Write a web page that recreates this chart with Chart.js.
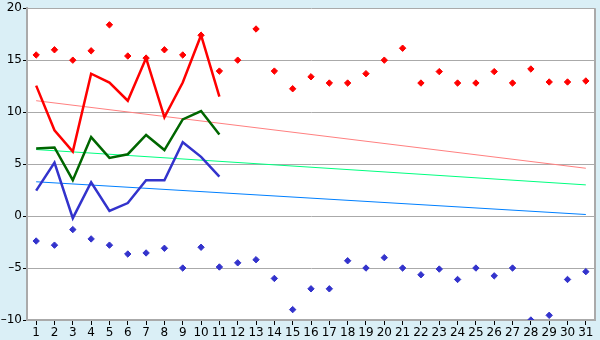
<!DOCTYPE html>
<html lang="en">
<head>
    <meta charset="UTF-8">
    <title>Chart</title>
    <script src="https://cdn.jsdelivr.net/npm/chart.js"></script>
    <style>
        html, body { margin: 0; padding: 0; background: #daeff6; }
        #wrap { width: 600px; height: 340px; }
    </style>
</head>
<body>
    <div id="wrap"><canvas id="grafico"></canvas></div>
    <script>
        // categorias (dias)
        var dias = [];
        for (var d = 1; d <= 31; d++) dias.push(String(d));

        // pontos vermelhos
        var pontosVermelhos = [15.5, 16, 15, 15.9, 18.4, 15.4, 15.2, 16, 15.5, 17.4,
            13.95, 15, 18, 13.95, 12.25, 13.4, 12.8, 12.8, 13.7, 15,
            16.15, 12.8, 13.9, 12.8, 12.8, 13.9, 12.8, 14.15, 12.9, 12.9, 13];
        // pontos azuis
        var pontosAzuis = [-2.4, -2.8, -1.3, -2.2, -2.8, -3.65, -3.55, -3.1, -5, -3,
            -4.9, -4.5, -4.2, -6, -9, -7, -7, -4.3, -5, -4,
            -5, -5.65, -5.1, -6.1, -5, -5.75, -5, -10, -9.55, -6.1, -5.35];

        // linhas grossas (dias 1-11)
        var linhaVermelha = [12.55, 8.25, 6.2, 13.7, 12.85, 11.1, 15.2, 9.5, 12.85, 17.4, 11.5];
        var linhaVerde = [6.5, 6.6, 3.45, 7.6, 5.6, 5.95, 7.8, 6.35, 9.3, 10.1, 7.85];
        var linhaAzul = [2.45, 5.15, -0.2, 3.25, 0.5, 1.25, 3.45, 3.45, 7.1, 5.7, 3.8];

        // tendencias: valor no dia 1 e no dia 31
        var tendVermelha = [11.1, 4.6];
        var tendVerde = [6.4, 3.0];
        var tendAzul = [3.3, 0.15];

        var yTicks = [-10, -5, 0, 5, 10, 15, 20];

        function tendencia(v) {
            return [{ x: dias[0], y: v[0] }, { x: dias[dias.length - 1], y: v[1] }];
        }

        var fundoArea = {
            id: 'fundoArea',
            beforeDraw: function (chart) {
                var c = chart.ctx, a = chart.chartArea;
                c.save();
                c.fillStyle = '#ffffff';
                c.fillRect(a.left, a.top, a.right - a.left, a.bottom - a.top);
                c.restore();
            },
            afterDatasetsDraw: function (chart) {
                var c = chart.ctx, a = chart.chartArea;
                c.save();
                c.strokeStyle = '#aaaaaa';
                c.lineWidth = 2;
                c.beginPath();
                c.moveTo(a.right, a.top);
                c.lineTo(a.right, a.bottom);
                c.stroke();
                c.restore();
            }
        };

        Chart.defaults.font.family = 'DejaVu Sans';
        Chart.defaults.font.size = 12;
        Chart.defaults.color = '#000';

        var ctx = document.getElementById('grafico').getContext('2d');
        var grafico = new Chart(ctx, {
            type: 'line',
            data: {
                labels: dias,
                datasets: [
                    { data: tendencia(tendVermelha), borderColor: '#ff8080', borderWidth: 1, pointRadius: 0, order: 5 },
                    { data: tendencia(tendVerde), borderColor: '#00ff80', borderWidth: 1, pointRadius: 0, order: 5 },
                    { data: tendencia(tendAzul), borderColor: '#0080ff', borderWidth: 1, pointRadius: 0, order: 5 },
                    { data: linhaVermelha, borderColor: '#ff0000', borderWidth: 2.5, pointRadius: 0, order: 2 },
                    { data: linhaVerde, borderColor: '#006600', borderWidth: 2.5, pointRadius: 0, order: 2 },
                    { data: linhaAzul, borderColor: '#3333cc', borderWidth: 2.5, pointRadius: 0, order: 2 },
                    { data: pontosVermelhos, showLine: false, pointStyle: 'rectRot', pointRadius: 3.2,
                      backgroundColor: '#ff0000', borderColor: '#ff0000', borderWidth: 1, order: 1 },
                    { data: pontosAzuis, showLine: false, pointStyle: 'rectRot', pointRadius: 3.2,
                      backgroundColor: '#3333cc', borderColor: '#3333cc', borderWidth: 1, order: 1 }
                ]
            },
            options: {
                responsive: true,
                maintainAspectRatio: false,
                animation: false,
                layout: { padding: { top: 5, right: 4, left: 0, bottom: 0 } },
                plugins: { legend: { display: false }, tooltip: { enabled: false } },
                elements: { line: { tension: 0 } },
                scales: {
                    x: {
                        type: 'category',
                        offset: true,
                        grid: { drawOnChartArea: false, offset: false, tickLength: 5, tickColor: '#000' },
                        border: { color: '#aaaaaa', width: 2 },
                        ticks: { autoSkip: false, maxRotation: 0, padding: 1 },
                        afterFit: function (s) { s.height = 20; }
                    },
                    y: {
                        min: -10,
                        max: 20,
                        afterBuildTicks: function (s) { s.ticks = yTicks.map(function (v) { return { value: v }; }); },
                        grid: { color: '#aaaaaa', lineWidth: 1, tickLength: 4, tickColor: '#000' },
                        border: { color: '#aaaaaa', width: 2 },
                        ticks: { padding: 1, callback: function (v) { return v < 0 ? '\u2013' + Math.abs(v) : v; } },
                        afterFit: function (s) { s.width = 27; }
                    }
                }
            },
            plugins: [fundoArea]
        });
    </script>
</body>
</html>
